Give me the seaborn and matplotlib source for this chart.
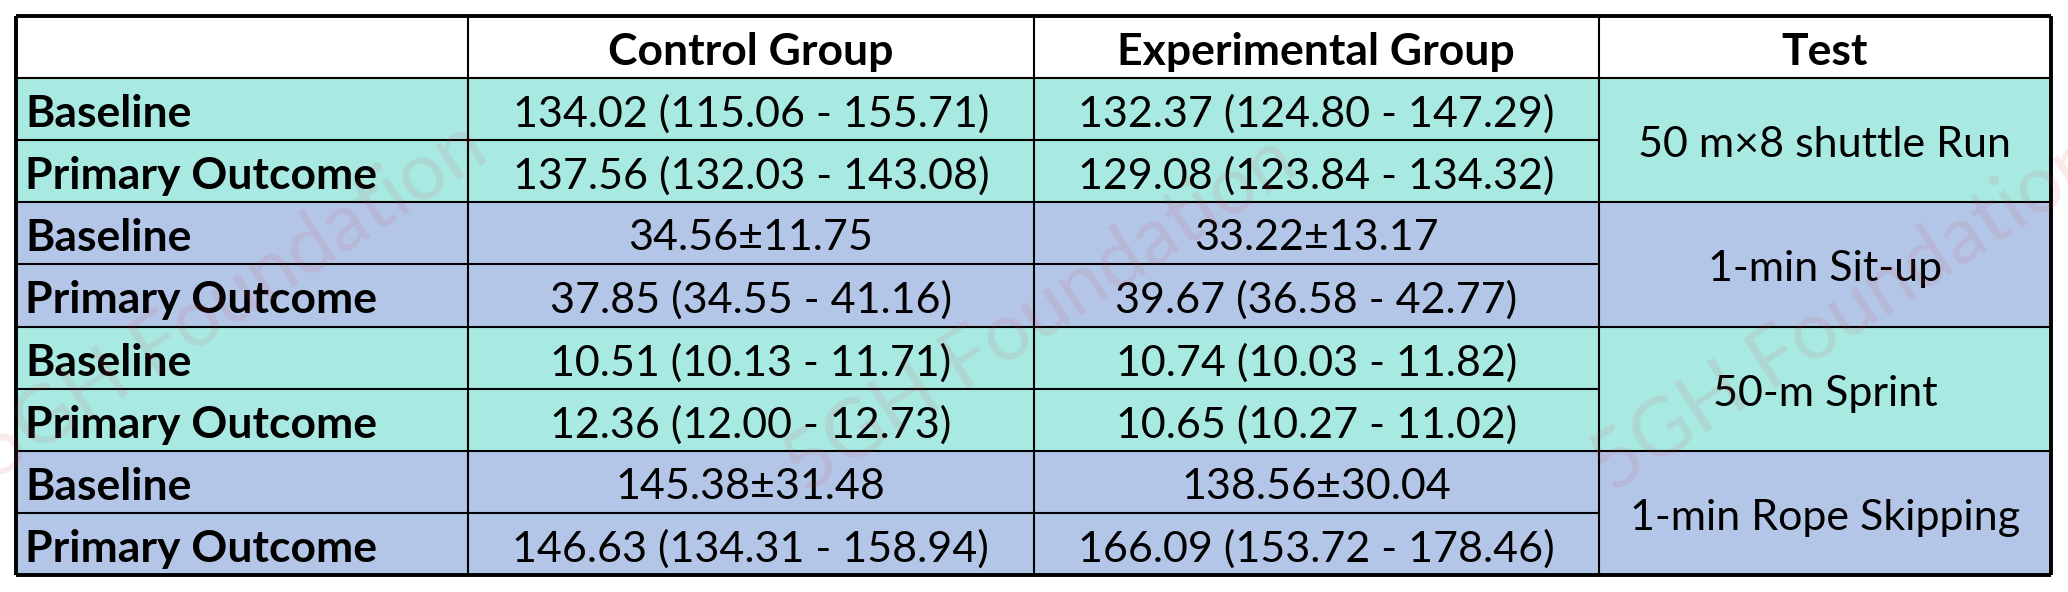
import numpy as np
import matplotlib
matplotlib.use("Agg")
import matplotlib.pyplot as plt
from matplotlib.colors import ListedColormap
import seaborn as sns

# table content
col_headers = ["", "Control Group", "Experimental Group", "Test"]
row_labels = ["Baseline", "Primary Outcome", "Baseline", "Primary Outcome",
              "Baseline", "Primary Outcome", "Baseline", "Primary Outcome"]
control = ["134.02 (115.06 - 155.71)", "137.56 (132.03 - 143.08)",
           "34.56±11.75", "37.85 (34.55 - 41.16)",
           "10.51 (10.13 - 11.71)", "12.36 (12.00 - 12.73)",
           "145.38±31.48", "146.63 (134.31 - 158.94)"]
experimental = ["132.37 (124.80 - 147.29)", "129.08 (123.84 - 134.32)",
                "33.22±13.17", "39.67 (36.58 - 42.77)",
                "10.74 (10.03 - 11.82)", "10.65 (10.27 - 11.02)",
                "138.56±30.04", "166.09 (153.72 - 178.46)"]
tests = ["50 m×8 shuttle Run", "1-min Sit-up", "50-m Sprint", "1-min Rope Skipping"]

teal = "#A8EAE2"
lavender = "#B4C6E7"
group_fill = [1, 2, 1, 2]          # colour code per test group
col_units = [4, 5, 5, 4]           # relative column widths

sns.set_theme(style="white")
plt.rcParams['font.family'] = ['Lato', 'DejaVu Sans']
plt.rcParams['text.color'] = 'black'

W, H = 2068, 592
fig = plt.figure(figsize=(W / 100, H / 100), dpi=100)
left, top, right, bottom = 16, 16, 2051, 575
ax = fig.add_axes([left / W, 1 - bottom / H, (right - left) / W, (bottom - top) / H])

# fill codes: header row white, then two rows per group
n_rows = 1 + 2 * len(tests)
n_sub = sum(col_units)
codes = [0] + [c for c in group_fill for _ in range(2)]
grid = np.repeat(np.array(codes)[:, None], n_sub, axis=1)

sns.heatmap(grid, cmap=ListedColormap(["white", teal, lavender]), vmin=-0.5, vmax=2.5,
            cbar=False, xticklabels=False, yticklabels=False, ax=ax)
ax.set_xlim(0, n_sub)
ax.set_ylim(n_rows, 0)
for s in ax.spines.values():
    s.set_visible(False)

edges = np.concatenate([[0], np.cumsum(col_units)])
lw_in, lw_out = 1.5, 2.8

# horizontal rules (the Test column is merged over each pair of rows)
for r in range(1, n_rows):
    if r % 2 == 1:
        ax.hlines(r, 0, n_sub, color="black", lw=lw_in)
    else:
        ax.hlines(r, 0, edges[3], color="black", lw=lw_in)
for x in edges[1:-1]:
    ax.vlines(x, 0, n_rows, color="black", lw=lw_in)
ax.hlines([0, n_rows], 0, n_sub, color="black", lw=lw_out, clip_on=False)
ax.vlines([0, n_sub], 0, n_rows, color="black", lw=lw_out, clip_on=False)

fs_bold = 32
fs = 31
dy = 0.08
centers = (edges[:-1] + edges[1:]) / 2

for j, h in enumerate(col_headers):
    if h:
        ax.text(centers[j], 0.5 + dy, h, ha="center", va="center",
                fontsize=fs_bold, fontweight="bold", zorder=5)

for i in range(len(row_labels)):
    y = i + 1.5 + dy
    ax.text(0.08, y, row_labels[i], ha="left", va="center",
            fontsize=fs_bold, fontweight="bold", zorder=5)
    ax.text(centers[1], y, control[i], ha="center", va="center", fontsize=fs, zorder=5)
    ax.text(centers[2], y, experimental[i], ha="center", va="center", fontsize=fs, zorder=5)

for g, t in enumerate(tests):
    ax.text(centers[3], 1 + 2 * g + 1 + dy, t, ha="center", va="center",
            fontsize=fs, zorder=5)

# faint watermark
for cx, cy in [(230, 300), (1040, 314), (1847, 313)]:
    fig.text(cx / W, 1 - cy / H, "5GH Foundation", rotation=33, ha="center", va="center",
             fontsize=58, color="#d23c50", alpha=0.11, zorder=4)

fig.savefig("out.png", dpi=100)
